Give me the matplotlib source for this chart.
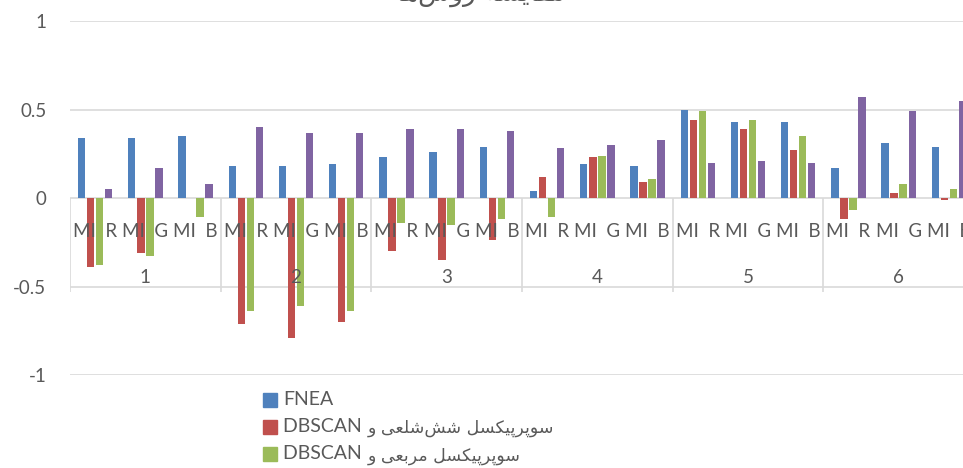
import matplotlib.pyplot as plt
from matplotlib.patches import Rectangle
import numpy as np

# presentation forms for the persian letters used: (isolated, final[, initial, medial])
FORMS = {
    'ا': (0xFE8D, 0xFE8E), 'د': (0xFEA9, 0xFEAA), 'ر': (0xFEAD, 0xFEAE),
    'ز': (0xFEAF, 0xFEB0), 'و': (0xFEED, 0xFEEE),
    'ب': (0xFE8F, 0xFE90, 0xFE91, 0xFE92), 'پ': (0xFB56, 0xFB57, 0xFB58, 0xFB59),
    'ت': (0xFE95, 0xFE96, 0xFE97, 0xFE98), 'س': (0xFEB1, 0xFEB2, 0xFEB3, 0xFEB4),
    'ش': (0xFEB5, 0xFEB6, 0xFEB7, 0xFEB8), 'ع': (0xFEC9, 0xFECA, 0xFECB, 0xFECC),
    'ق': (0xFED5, 0xFED6, 0xFED7, 0xFED8), 'ک': (0xFB8E, 0xFB8F, 0xFB90, 0xFB91),
    'ل': (0xFEDD, 0xFEDE, 0xFEDF, 0xFEE0), 'م': (0xFEE1, 0xFEE2, 0xFEE3, 0xFEE4),
    'ن': (0xFEE5, 0xFEE6, 0xFEE7, 0xFEE8), 'ه': (0xFEE9, 0xFEEA, 0xFEEB, 0xFEEC),
    'ی': (0xFBFC, 0xFBFD, 0xFBFE, 0xFBFF),
}


def fa(text):
    """join persian letters and return them in left-to-right drawing order"""
    out = []
    for i, ch in enumerate(text):
        f = FORMS.get(ch)
        if f is None:
            if ch != '\u200c':
                out.append(ch)
            continue
        prev = text[i - 1] if i > 0 else ''
        nxt = text[i + 1] if i + 1 < len(text) else ''
        join_prev = prev in FORMS and len(FORMS[prev]) == 4
        join_next = len(f) == 4 and nxt in FORMS
        if join_prev and join_next:
            g = f[3]
        elif join_prev:
            g = f[1]
        elif join_next:
            g = f[2]
        else:
            g = f[0]
        out.append(chr(g))
    return ''.join(reversed(out))


groups = ['1', '2', '3', '4', '5', '6']
channels = ['MI  R', 'MI  G', 'MI  B']

fnea = [0.34, 0.34, 0.35, 0.18, 0.18, 0.19, 0.23, 0.26, 0.29,
        0.04, 0.19, 0.18, 0.50, 0.43, 0.43, 0.17, 0.31, 0.29]
hex_dbscan = [-0.39, -0.31, 0.0, -0.71, -0.79, -0.70, -0.30, -0.35, -0.24,
              0.12, 0.23, 0.09, 0.44, 0.39, 0.27, -0.12, 0.03, -0.01]
square_dbscan = [-0.38, -0.33, -0.11, -0.64, -0.61, -0.64, -0.14, -0.15, -0.12,
                 -0.11, 0.24, 0.11, 0.49, 0.44, 0.35, -0.07, 0.08, 0.05]
proposed = [0.05, 0.17, 0.08, 0.40, 0.37, 0.37, 0.39, 0.39, 0.38,
            0.28, 0.30, 0.33, 0.20, 0.21, 0.20, 0.57, 0.49, 0.55]

series = [fnea, hex_dbscan, square_dbscan, proposed]
# legend labels: latin part, persian part
names = [('FNEA', ''),
         ('DBSCAN ', fa('سوپرپیکسل شش‌شلعی و')),
         ('DBSCAN ', fa('سوپرپیکسل مربعی و')),
         ('', fa('روش پیشنهادی'))]
colors = ['#4F81BD', '#C0504D', '#9BBB59', '#8064A2']
title = fa('مقایسه روش‌ها')

font = ['Lato', 'DejaVu Sans']
grey = '#595959'
line = '#d9d9d9'

fig = plt.figure(figsize=(9.63, 4.68), dpi=100)
ax = fig.add_axes([70 / 963, 1 - 375 / 468, 904 / 963, 354 / 468])

x = np.arange(len(fnea))
step = 0.18
for k, (vals, c) in enumerate(zip(series, colors)):
    ax.bar(x + (k - 1.5) * step, vals, width=0.148, color=c, zorder=3)

ax.set_xlim(-0.5, len(x) - 0.5)
ax.set_ylim(-1, 1)
ax.set_xticks([])
ax.set_yticks([-1, -0.5, 0, 0.5, 1])
ax.set_yticklabels(['-1', '-0.5', '0', '0.5', '1'], family=font)
for s in ax.spines.values():
    s.set_visible(False)
ax.grid(axis='y', color=line, lw=1.2, zorder=0)
ax.set_axisbelow(True)
ax.tick_params(axis='y', length=0, pad=17, labelsize=13.5, labelcolor=grey)

# group dividers hanging below the zero line
ax.vlines(np.arange(0, len(x) + 1, 3) - 0.5, -0.53, 0, color=line, lw=1.2, zorder=1)

for i in x:
    ax.annotate(channels[i % 3], (i, 0), xytext=(0, -28), textcoords='offset points',
                ha='center', va='baseline', fontsize=13.5, color=grey,
                family=font, zorder=4)
for g, name in enumerate(groups):
    ax.annotate(name, (3 * g + 1, 0), xytext=(0, -61), textcoords='offset points',
                ha='center', va='baseline', fontsize=13.5, color=grey,
                family=font, zorder=4)

fig.text(480 / 963, 1 - 0.5 / 468, title, ha='center', va='baseline',
         fontsize=19, color=grey, family=['DejaVu Sans'])

# legend, one row per series
for k, ((latin, persian), c) in enumerate(zip(names, colors)):
    top = 393 + 27.2 * k
    fig.patches.append(Rectangle((263 / 963, 1 - (top + 14) / 468), 14 / 963, 14 / 468,
                                 transform=fig.transFigure, color=c))
    t = fig.text(283 / 963, 1 - (top + 12) / 468, latin, ha='left', va='baseline',
                 fontsize=14, color=grey, family=font)
    if persian:
        fig.add_artist(plt.Annotation(persian, (1, 0), xycoords=t, xytext=(1, 1.5),
                                      textcoords='offset points', ha='left',
                                      va='baseline', fontsize=12.5, color=grey,
                                      family=['DejaVu Sans']))

fig.savefig('out.png', dpi=100)
